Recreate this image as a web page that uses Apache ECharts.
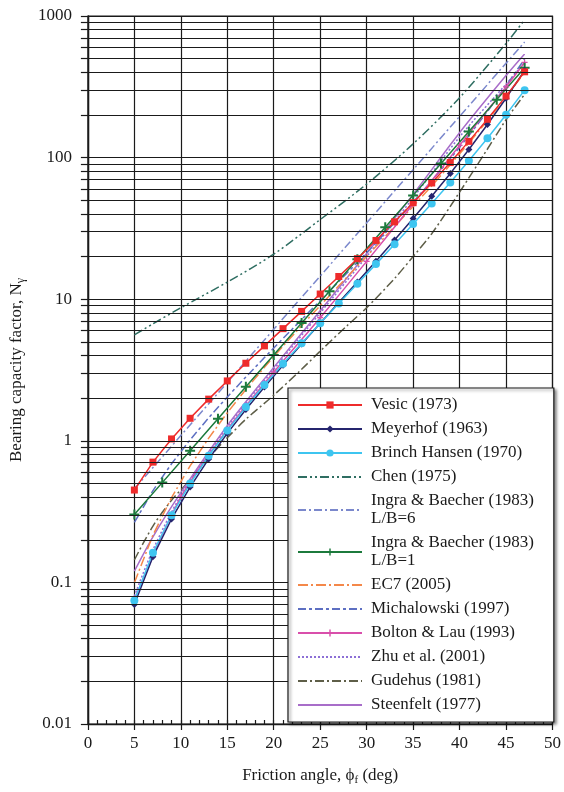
<!DOCTYPE html>
<html><head><meta charset="utf-8">
<script src="https://cdn.jsdelivr.net/npm/echarts@6/dist/echarts.min.js"></script>
<style>html,body{margin:0;padding:0;background:#fff}#c{width:564px;height:792px}</style>
</head><body><div id="c"></div>
<script>
// ---- data ----
const anglesStep2 = [5,7,9,11,13,15,17,19,21,23,25,27,29,31,33,35,37,39,41,43,45,47];
const vesic = [0.449,0.707,1.031,1.442,1.969,2.648,3.529,4.681,6.196,8.202,10.88,14.47,19.33,25.99,35.19,48.03,66.19,92.25,130.2,186.5,271.7,403.6];
const meyerhof = [0.0697,0.1518,0.2804,0.471,0.7444,1.129,1.664,2.402,3.421,4.824,6.766,9.463,13.23,18.56,26.17,37.16,53.26,77.32,114.0,171.2,262.7,413.4];
const brinchHansen = [0.0745,0.1619,0.2981,0.4986,0.784,1.182,1.73,2.478,3.496,4.878,6.758,9.324,12.84,17.69,24.44,33.93,47.38,66.76,95.06,137.1,200.8,299.5];
const ec7 = [0.0994,0.216,0.397,0.665,1.045,1.576,2.306,3.304,4.661,6.504,9.011,12.43,17.12,23.59,32.59,45.24,63.17,89.01,126.7,182.8,267.7,399.4];
const michalowski = [0.265,0.445,0.688,1.016,1.453,2.039,2.821,3.871,5.28,7.186,9.776,13.32,18.22,25.05,34.7,48.51,68.55,98.2,142.9,211.8,320.5,497.6];

const anglesCoarse = [5,7,10,15,20,25,30,35,40,45,47];
const chen = [5.6,6.7,8.7,13.2,20.8,36.5,65,125,265,640,940];
const zhu = [0.08,0.17,0.41,1.25,3.2,8.0,20,52,140,330,470];
const steenfelt = [0.12,0.21,0.43,1.28,3.3,8.3,21,55,150,380,540];

const anglesStep5 = [5,10,15,20,25,30,35,40,45,47];
const ingra6 = [0.458,1.088,2.583,6.135,14.57,34.6,82.2,195.2,463.7,655];
const bolton = [0.075,0.40,1.2,3.05,7.4,18.5,47,122,316,470];

const anglesStep3 = [5,8,11,14,17,20,23,26,29,32,35,38,41,44,47];
const ingra1 = [0.3015,0.5066,0.8513,1.4305,2.404,4.039,6.787,11.40,19.16,32.20,54.10,90.92,152.8,256.7,431.4];

const anglesGudehus = [5,7,9,11,13,15,17,20,23,25,28,30,33,35,37,40,43,45,47];
const gudehus = [0.144,0.25,0.38,0.53,0.76,1.05,1.42,2.1,3.2,4.3,6.6,8.7,14,20,29,57,115,185,280];

const xTicks = {min:0, max:50, step:5};
const yDecades = [0.01,0.1,1,10,100,1000];

// ---- chart ----
const FONT = 'Liberation Serif';
const INK = '#1a1a1a';
const gridVals = [];
for (let d = 0; d < yDecades.length - 1; d++) {
  for (let m = 1; m <= 9; m++) gridVals.push(+(yDecades[d] * m).toPrecision(3));
}
gridVals.push(yDecades[yDecades.length - 1]);

const pairs = (xs, ys) => xs.map((x, i) => [x, ys[i]]);
const plus = 'path://M4,0H6V4H10V6H6V10H4V6H0V4H4Z';

function line(name, xs, ys, color, type, symbol, size, smooth) {
  return {
    name, type: 'line', data: pairs(xs, ys), smooth: smooth ? 0.3 : false,
    symbol: symbol || 'none', symbolSize: size || 0, showSymbol: !!symbol,
    lineStyle: {color, width: 1.5, type: type || 'solid'},
    itemStyle: {color},
    emphasis: {disabled: true}, animation: false, z: 3
  };
}

const series = [
  {name: '_grid', type: 'line', data: [], silent: true, animation: false, z: 1,
   markLine: {silent: true, symbol: 'none', label: {show: false}, animation: false,
     lineStyle: {color: INK, width: 1.2, type: 'solid'},
     data: gridVals.map(v => ({yAxis: v}))}},
  line('Chen (1975)', anglesCoarse, chen, '#2f6e62', [9,3,2,3,2,3], null, 0, true),
  line('Ingra & Baecher (1983)\nL/B=6', anglesStep5, ingra6, '#7b88cc', [8,3,2,3], null, 0, false),
  line('Gudehus (1981)', anglesGudehus, gudehus, '#5e5e48', [9,3,2,3], null, 0, true),
  line('Zhu et al. (2001)', anglesCoarse, zhu, '#8c6fd6', [2,2], null, 0, true),
  line('Steenfelt (1977)', anglesCoarse, steenfelt, '#a86dc9', 'solid', null, 0, true),
  line('Michalowski (1997)', anglesStep2, michalowski, '#5d6fc2', [8,3,3,3], null, 0, false),
  line('EC7 (2005)', anglesStep2, ec7, '#f4884a', [10,3,2,3], null, 0, false),
  line('Bolton & Lau (1993)', anglesStep5, bolton, '#d94fab', 'solid', plus, 6, true),
  line('Ingra & Baecher (1983)\nL/B=1', anglesStep3, ingra1, '#1c7a3c', 'solid', plus, 10, false),
  line('Meyerhof (1963)', anglesStep2, meyerhof, '#25256e', 'solid', 'diamond', 7, false),
  line('Brinch Hansen (1970)', anglesStep2, brinchHansen, '#3ec5f0', 'solid', 'circle', 8, false),
  line('Vesic (1973)', anglesStep2, vesic, '#ee2b2b', 'solid', 'rect', 7, false)
];

const legendOrder = ['Vesic (1973)','Meyerhof (1963)','Brinch Hansen (1970)','Chen (1975)',
  'Ingra & Baecher (1983)\nL/B=6','Ingra & Baecher (1983)\nL/B=1','EC7 (2005)','Michalowski (1997)',
  'Bolton & Lau (1993)','Zhu et al. (2001)','Gudehus (1981)','Steenfelt (1977)'];
const withMarker = new Set(['Vesic (1973)','Meyerhof (1963)','Brinch Hansen (1970)',
  'Ingra & Baecher (1983)\nL/B=1','Bolton & Lau (1993)']);
const legendData = legendOrder.map(n => withMarker.has(n)
  ? {name: n}
  : {name: n, itemStyle: {opacity: 0, color: 'transparent', borderWidth: 0}});

const chart = echarts.init(document.getElementById('c'), null, {renderer: 'canvas'});
chart.setOption({
  animation: false,
  backgroundColor: '#fff',
  grid: {left: 87, right: 11, top: 16, bottom: 68, show: true, borderColor: INK, borderWidth: 1.2, backgroundColor: 'transparent'},
  legend: {
    data: legendData, orient: 'vertical', left: 288, top: 388, z: 100,
    itemWidth: 64, itemHeight: 9, itemGap: 6,
    padding: [8, 20, 8, 9],
    backgroundColor: '#fff', borderColor: INK, borderWidth: 1.2,
    shadowBlur: 3, shadowOffsetX: 2, shadowOffsetY: 2, shadowColor: 'rgba(0,0,0,0.45)',
    textStyle: {fontFamily: FONT, fontSize: 17, color: INK, lineHeight: 18, padding: [0,0,0,4]},
    selectedMode: false
  },
  xAxis: [
    {type: 'value', min: xTicks.min, max: xTicks.max, interval: xTicks.step,
     axisLine: {show: true, onZero: false, lineStyle: {color: INK, width: 1.4}},
     axisTick: {show: true, length: 6, lineStyle: {color: INK, width: 1.2}},
     axisLabel: {fontFamily: FONT, fontSize: 17, color: INK, margin: 11},
     splitLine: {show: true, lineStyle: {color: INK, width: 1.2}},
     name: 'Friction angle, {g|ϕ}{s|f} (deg)', nameLocation: 'middle', nameGap: 42,
     nameTextStyle: {fontFamily: FONT, fontSize: 17, color: INK,
       rich: {g: {fontFamily: FONT, fontSize: 17, color: INK}, s: {fontFamily: FONT, fontSize: 11, color: INK, padding: [9,0,0,0]}}}},
    {type: 'value', min: xTicks.min, max: xTicks.max, interval: 1, position: 'bottom',
     axisLine: {show: false}, axisLabel: {show: false}, splitLine: {show: false},
     axisTick: {show: true, inside: true, length: 4, lineStyle: {color: INK, width: 1.2}}}
  ],
  yAxis: {
    type: 'log', logBase: 10, min: yDecades[0], max: yDecades[yDecades.length - 1],
    axisLine: {show: true, onZero: false, lineStyle: {color: INK, width: 1.4}},
    axisTick: {show: true, length: 7, customValues: gridVals, lineStyle: {color: INK, width: 1.2}},
    axisLabel: {fontFamily: FONT, fontSize: 17, color: INK, margin: 16,
      formatter: v => String(+v.toPrecision(3))},
    splitLine: {show: false},
    name: 'Bearing capacity factor, N{s|γ}', nameLocation: 'middle', nameGap: 58,
    nameTextStyle: {fontFamily: FONT, fontSize: 17, color: INK,
      rich: {s: {fontFamily: FONT, fontSize: 12, color: INK, padding: [9,0,0,0]}}}
  },
  series
});
</script>
</body></html>
